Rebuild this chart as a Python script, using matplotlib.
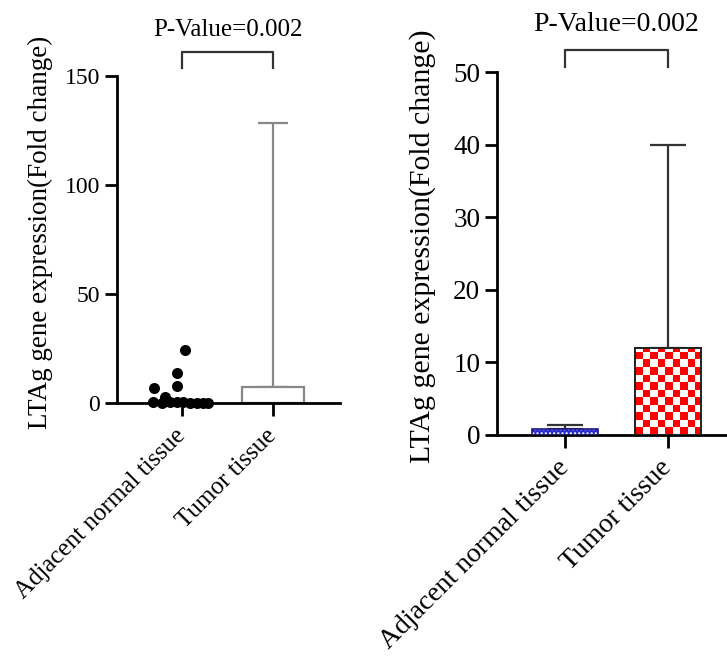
import numpy as np
import matplotlib.pyplot as plt

plt.rcParams['font.family'] = ['Liberation Serif', 'DejaVu Serif']

groups = ['Adjacent normal tissue', 'Tumor tissue']
pval_text = 'P-Value=0.002'
ylab = 'LTAg gene expression(Fold change)'

# left panel: individual normal-tissue values + tumor mean/SD
normal_pts = [24.3, 13.7, 7.8, 6.9, 2.6, 0.6, 0.4, 0.5, 0.3, 0.2, 0.1, 0.1, 0.1, 0.1]
normal_jit = [0.03, -0.05, -0.05, -0.31, -0.19, -0.32, -0.13, -0.05, 0.01, 0.09, 0.165, 0.23, 0.285, -0.22]
tumor_mean_l = 7.3
tumor_sd_l = 121.0

# right panel: mean and SD
means_r = [0.8, 12.0]
sds_r = [0.6, 28.0]

W, H = 727, 658
fig = plt.figure(figsize=(W / 100, H / 100), dpi=100)

def px_axes(x0, x1, ytop, ybot):
    return fig.add_axes([x0 / W, 1 - ybot / H, (x1 - x0) / W, (ybot - ytop) / H])

def style(ax, fs):
    for s in ['top', 'right']:
        ax.spines[s].set_visible(False)
    for s in ['left', 'bottom']:
        ax.spines[s].set_linewidth(2.0)
    ax.tick_params(width=2.0, length=9, labelsize=fs, pad=3)
    ax.tick_params(axis='x', pad=12)
    ax.set_xticks([0, 1])

def bracket(ax, x0, x1, ytop, ybot, ytext, fs):
    ax.plot([x0, x0, x1, x1], [ybot, ytop, ytop, ybot], color='#333333', lw=1.6, clip_on=False)
    ax.text((x0 + x1) / 2, ytext, pval_text, ha='center', va='center', fontsize=fs, clip_on=False)

# ---- left panel
ax1 = px_axes(117, 340, 76, 403)
style(ax1, 17)
ax1.set_xlim(-0.714, 1.736)
ax1.set_ylim(0, 150)
ax1.set_yticks([0, 50, 100, 150])
ax1.spines['left'].set_bounds(0, 150)
ax1.bar(1, tumor_mean_l, width=0.68, color='white', edgecolor='#888888', lw=1.6, zorder=2)
ax1.errorbar(1, tumor_mean_l, yerr=[[0], [tumor_sd_l]], color='#888888', lw=1.6,
             capsize=11, capthick=1.6, zorder=1)
ax1.scatter(np.array(normal_jit), normal_pts, s=48, color='black', zorder=3, clip_on=False)
ax1.set_xticklabels(groups, rotation=45, ha='right', va='center', rotation_mode='anchor', fontsize=18)
bracket(ax1, 0, 1, 161, 153.6, 171, 18)
fig.text(40 / W, 1 - 232 / H, ylab, rotation=90, ha='center', va='center', fontsize=19.5)

# ---- right panel
ax2 = px_axes(497, 727, 72, 435)
style(ax2, 19.5)
ax2.set_xlim(-0.66, 1.573)
ax2.set_ylim(0, 50)
ax2.set_yticks(np.arange(0, 51, 10))
bw = 0.65
ax2.errorbar([0, 1], means_r, yerr=[[0, 0], sds_r], fmt='none', ecolor='#333333', lw=1.6,
             capsize=13, capthick=1.6, zorder=1)
# blue dotted bar
ax2.bar(0, means_r[0], width=bw, color='#2b2bd0', lw=0, zorder=2)
ax2.bar(0, means_r[0], width=bw, color='none', edgecolor='white', hatch='....', lw=0, zorder=3)
ax2.bar(0, means_r[0], width=bw, color='none', edgecolor='#1a1a80', lw=1.2, zorder=4)
# red checkered bar
red = ax2.bar(1, means_r[1], width=bw, color='white', edgecolor='#222222', lw=1.4, zorder=2)[0]
cw, ch = 0.073, 1.03
nc = int(np.ceil(bw / cw)) + 1
nr = int(np.ceil(means_r[1] / ch)) + 1
checker = (np.add.outer(np.arange(nr), np.arange(nc)) % 2).astype(float)
x0 = 1 - bw / 2
im = ax2.imshow(checker, cmap=plt.matplotlib.colors.ListedColormap(['red', 'white']),
                extent=(x0, x0 + nc * cw, 0, nr * ch), origin='lower', aspect='auto',
                interpolation='nearest', zorder=2.5)
im.set_clip_path(red)
ax2.bar(1, means_r[1], width=bw, color='none', edgecolor='#222222', lw=1.4, zorder=4)
ax2.set_xlim(-0.66, 1.573)
ax2.set_ylim(0, 50)
ax2.set_xticklabels(groups, rotation=45, ha='right', va='center', rotation_mode='anchor', fontsize=20)
bracket(ax2, 0, 1, 53.0, 50.7, 56.5, 20)
fig.text(423 / W, 1 - 246 / H, ylab, rotation=90, ha='center', va='center', fontsize=21.5)

fig.savefig('out.png', dpi=100)
